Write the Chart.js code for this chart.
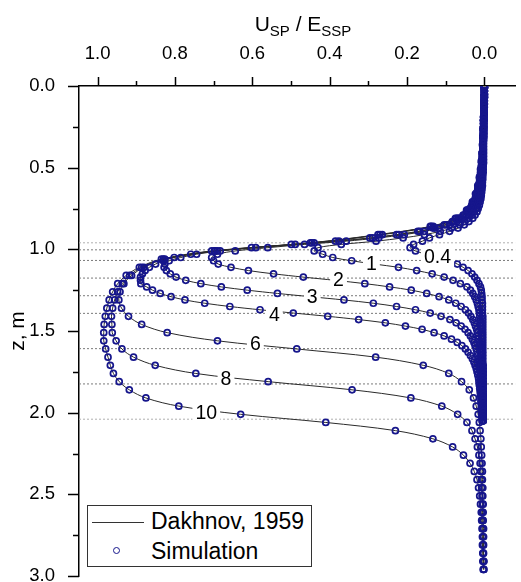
<!DOCTYPE html>
<html>
<head>
<meta charset="utf-8">
<title>SP profiles</title>
<script src="https://cdn.jsdelivr.net/npm/chart.js@4.4.1/dist/chart.umd.min.js"></script>
<style>
  body { margin: 0; background: #fff; }
  #wrap { position: relative; width: 521px; height: 582px; font-family: 'Liberation Sans', Arial, sans-serif; color: #000; }
  #chart { position: absolute; left: 0; top: 0; }
  #xTitle { position: absolute; left: 153px; top: 13px; width: 300px; text-align: center; font-size: 21px; line-height: 21px; }
  #xTitle span { font-size: 15px; position: relative; top: 5px; }
  #legend { position: absolute; left: 87px; top: 505px; width: 223px; height: 60px; border: 1px solid #333; background: #fff; }
  #legend .sample { position: absolute; left: 4px; top: 16px; width: 52px; border-top: 1px solid #333; }
  #legend .dot { position: absolute; left: 25px; top: 41px; width: 5px; height: 5px; border: 1.7px solid #16168c; border-radius: 50%; }
  #legend .txt { position: absolute; left: 63px; font-size: 23px; line-height: 23px; white-space: nowrap; }
</style>
</head>
<body>
<div id="wrap">
  <canvas id="chart" width="521" height="582"></canvas>
  <div id="xTitle">U<span>SP</span> / E<span>SSP</span></div>
  <div id="legend">
    <div class="sample"></div>
    <div class="txt" style="top: 4px;">Dakhnov, 1959</div>
    <div class="dot"></div>
    <div class="txt" style="top: 34px;">Simulation</div>
  </div>
</div>
<script>
const FONT = "'Liberation Sans', Arial, sans-serif";

// axis ticks
const xTicks = [1.0, 0.9, 0.8, 0.7, 0.6, 0.5, 0.4, 0.3, 0.2, 0.1, 0.0];
const zTicks = [0, 0.25, 0.5, 0.75, 1.0, 1.25, 1.5, 1.75, 2.0, 2.25, 2.5, 2.75, 3.0];

// bed boundaries (dotted)
const bedLines = [0.96, 1.003, 1.068, 1.176, 1.284, 1.392, 1.608, 1.824, 2.04];

// curve labels (h/d) and where they sit on each curve
const curveNames = ['0.4', '1', '2', '3', '4', '6', '8', '10'];
const labelU = [0.121, 0.292, 0.377, 0.445, 0.543, 0.592, 0.668, 0.719];
const labelZ = [1.045, 1.09, 1.188, 1.29, 1.4, 1.58, 1.79, 1.998];

// depth sampling: fine grid for thin beds, coarse for thick ones
function depthGrid(start, step, count) {
    const out = [];
    for (let i = 0; i < count; i++) out.push(+(start + i * step).toFixed(3));
    return out;
}
const depthFine = depthGrid(0.01, 0.02, 103);   // 0.01 .. 2.05
const depthCoarse = depthGrid(0.01, 0.05, 60);  // 0.01 .. 2.96

// U_SP / E_SSP on depthFine
const u04 = [
    0, 0, 0, 0, 0, 0, 0, 0.001, 0.001, 0.001,
    0.001, 0.001, 0.001, 0.001, 0.001, 0.001, 0.002, 0.002, 0.002, 0.002,
    0.002, 0.002, 0.002, 0.002, 0.003, 0.003, 0.003, 0.004, 0.004, 0.005,
    0.005, 0.006, 0.007, 0.008, 0.009, 0.011, 0.013, 0.016, 0.019, 0.024,
    0.030, 0.040, 0.052, 0.068, 0.090, 0.116, 0.142, 0.160, 0.183, 0.192,
    0.178, 0.150, 0.118, 0.090, 0.070, 0.055, 0.042, 0.032, 0.025, 0.019,
    0.014, 0.010, 0.008, 0.007, 0.006, 0.006, 0.005, 0.005, 0.005, 0.005,
    0.004, 0.004, 0.004, 0.004, 0.004, 0.004, 0.004, 0.004, 0.004, 0.004,
    0.004, 0.004, 0.004, 0.004, 0.004, 0.003, 0.003, 0.003, 0.003, 0.003,
    0.003, 0.003, 0.003, 0.003, 0.003, 0.003, 0.003, 0.003, 0.003, 0.003,
    0.003, 0.003, 0.003
];
const u1 = [
    0, 0, 0, 0, 0, 0.001, 0.001, 0.001, 0.001, 0.001,
    0.002, 0.002, 0.002, 0.002, 0.002, 0.002, 0.002, 0.003, 0.003, 0.003,
    0.003, 0.003, 0.003, 0.004, 0.004, 0.004, 0.005, 0.005, 0.006, 0.006,
    0.008, 0.009, 0.010, 0.011, 0.013, 0.015, 0.018, 0.021, 0.026, 0.032,
    0.040, 0.050, 0.064, 0.085, 0.114, 0.155, 0.210, 0.280, 0.370, 0.430,
    0.440, 0.418, 0.392, 0.343, 0.285, 0.222, 0.175, 0.135, 0.104, 0.081,
    0.062, 0.045, 0.036, 0.030, 0.025, 0.021, 0.018, 0.016, 0.014, 0.013,
    0.012, 0.011, 0.010, 0.009, 0.008, 0.008, 0.007, 0.007, 0.006, 0.006,
    0.006, 0.005, 0.005, 0.005, 0.005, 0.004, 0.004, 0.004, 0.004, 0.004,
    0.004, 0.004, 0.004, 0.004, 0.003, 0.003, 0.003, 0.003, 0.003, 0.003,
    0.003, 0.003, 0.003
];
const u2 = [
    0, 0, 0, 0, 0.001, 0.001, 0.001, 0.001, 0.001, 0.002,
    0.002, 0.002, 0.002, 0.002, 0.002, 0.003, 0.003, 0.003, 0.003, 0.003,
    0.004, 0.004, 0.005, 0.005, 0.006, 0.007, 0.008, 0.008, 0.009, 0.010,
    0.011, 0.012, 0.014, 0.016, 0.018, 0.022, 0.026, 0.031, 0.038, 0.047,
    0.057, 0.071, 0.090, 0.118, 0.155, 0.207, 0.273, 0.357, 0.465, 0.560,
    0.644, 0.690, 0.705, 0.700, 0.688, 0.655, 0.610, 0.545, 0.468, 0.385,
    0.309, 0.245, 0.189, 0.149, 0.117, 0.092, 0.074, 0.060, 0.049, 0.041,
    0.035, 0.030, 0.026, 0.023, 0.020, 0.018, 0.016, 0.015, 0.013, 0.012,
    0.011, 0.010, 0.010, 0.009, 0.008, 0.008, 0.007, 0.007, 0.007, 0.006,
    0.006, 0.006, 0.005, 0.005, 0.005, 0.005, 0.004, 0.004, 0.004, 0.004,
    0.004, 0.003, 0.003
];
const u3 = [
    0, 0, 0, 0, 0.001, 0.001, 0.001, 0.001, 0.001, 0.002,
    0.002, 0.002, 0.002, 0.003, 0.003, 0.003, 0.003, 0.003, 0.004, 0.004,
    0.005, 0.005, 0.006, 0.007, 0.007, 0.008, 0.009, 0.010, 0.011, 0.012,
    0.014, 0.015, 0.017, 0.020, 0.022, 0.026, 0.030, 0.035, 0.042, 0.052,
    0.063, 0.078, 0.099, 0.128, 0.167, 0.221, 0.289, 0.376, 0.489, 0.591,
    0.683, 0.744, 0.785, 0.815, 0.826, 0.828, 0.822, 0.812, 0.797, 0.772,
    0.733, 0.680, 0.613, 0.535, 0.450, 0.363, 0.287, 0.227, 0.178, 0.140,
    0.112, 0.089, 0.073, 0.060, 0.050, 0.042, 0.036, 0.031, 0.027, 0.024,
    0.021, 0.019, 0.017, 0.015, 0.014, 0.013, 0.012, 0.011, 0.010, 0.009,
    0.009, 0.008, 0.008, 0.007, 0.007, 0.006, 0.006, 0.006, 0.005, 0.005,
    0.005, 0.004, 0.004
];
const u4 = [
    0, 0, 0, 0, 0.001, 0.001, 0.001, 0.001, 0.001, 0.002,
    0.002, 0.002, 0.002, 0.003, 0.003, 0.003, 0.003, 0.003, 0.004, 0.004,
    0.005, 0.006, 0.006, 0.007, 0.008, 0.009, 0.010, 0.011, 0.012, 0.013,
    0.015, 0.017, 0.019, 0.021, 0.024, 0.028, 0.033, 0.038, 0.046, 0.055,
    0.067, 0.083, 0.104, 0.133, 0.172, 0.227, 0.296, 0.385, 0.499, 0.602,
    0.696, 0.759, 0.802, 0.830, 0.850, 0.866, 0.877, 0.884, 0.889, 0.889,
    0.888, 0.873, 0.858, 0.838, 0.810, 0.774, 0.723, 0.658, 0.580, 0.494,
    0.405, 0.325, 0.256, 0.204, 0.161, 0.130, 0.104, 0.085, 0.070, 0.058,
    0.049, 0.042, 0.036, 0.031, 0.027, 0.024, 0.021, 0.019, 0.017, 0.015,
    0.014, 0.013, 0.012, 0.011, 0.010, 0.009, 0.009, 0.008, 0.008, 0.007,
    0.007, 0.006, 0.006
];

// U_SP / E_SSP on depthCoarse
const u6 = [
    0, 0, 0, 0.001, 0.001, 0.002, 0.003, 0.003, 0.004, 0.006,
    0.008, 0.010, 0.013, 0.018, 0.026, 0.040, 0.068, 0.132, 0.264, 0.440,
    0.690, 0.826, 0.880, 0.912, 0.932, 0.942, 0.945, 0.938, 0.920, 0.886,
    0.820, 0.690, 0.485, 0.281, 0.158, 0.092, 0.059, 0.039, 0.028, 0.021,
    0.016, 0.013, 0.011, 0.009, 0.008, 0.007, 0.006, 0.005, 0.005, 0.004,
    0.004, 0.003, 0.003, 0.003, 0.002, 0.002, 0.002, 0.002, 0.001, 0.001
];
const u8 = [
    0, 0, 0.001, 0.001, 0.002, 0.003, 0.003, 0.004, 0.005, 0.007,
    0.009, 0.012, 0.016, 0.021, 0.029, 0.044, 0.072, 0.137, 0.270, 0.446,
    0.698, 0.830, 0.886, 0.917, 0.936, 0.948, 0.956, 0.961, 0.964, 0.963,
    0.962, 0.952, 0.937, 0.907, 0.851, 0.746, 0.559, 0.342, 0.190, 0.110,
    0.069, 0.045, 0.032, 0.024, 0.018, 0.014, 0.011, 0.009, 0.008, 0.007,
    0.006, 0.005, 0.005, 0.004, 0.004, 0.003, 0.003, 0.003, 0.002, 0.002
];
const u10 = [
    0, 0, 0.001, 0.001, 0.002, 0.003, 0.004, 0.005, 0.006, 0.008,
    0.010, 0.013, 0.017, 0.023, 0.031, 0.046, 0.075, 0.140, 0.275, 0.450,
    0.705, 0.835, 0.892, 0.926, 0.948, 0.961, 0.970, 0.976, 0.980, 0.983,
    0.984, 0.984, 0.979, 0.973, 0.967, 0.959, 0.944, 0.918, 0.875, 0.790,
    0.630, 0.410, 0.230, 0.133, 0.082, 0.054, 0.037, 0.026, 0.019, 0.015,
    0.012, 0.010, 0.008, 0.007, 0.006, 0.005, 0.005, 0.004, 0.004, 0.003
];

const profiles = [
    { depth: depthFine, u: u04 },
    { depth: depthFine, u: u1 },
    { depth: depthFine, u: u2 },
    { depth: depthFine, u: u3 },
    { depth: depthFine, u: u4 },
    { depth: depthCoarse, u: u6 },
    { depth: depthCoarse, u: u8 },
    { depth: depthCoarse, u: u10 }
];

function toPoints(depth, u) {
    return u.map((v, i) => ({ x: v, y: depth[i] }));
}

const SIM_COLOR = '#16168c';
const datasets = [];

// simulation circles go first so they end up on top
profiles.forEach(p => {
    datasets.push({
        data: toPoints(p.depth, p.u),
        showLine: false,
        pointStyle: 'circle',
        pointRadius: 3,
        pointBorderWidth: 1.7,
        pointBorderColor: SIM_COLOR,
        pointBackgroundColor: 'rgba(0,0,0,0)'
    });
});
profiles.forEach(p => {
    datasets.push({
        data: toPoints(p.depth, p.u),
        showLine: true,
        borderColor: '#2a2a2a',
        borderWidth: 1,
        tension: 0.35,
        pointRadius: 0
    });
});
bedLines.forEach((z, i) => {
    const faint = i === 0 || i === bedLines.length - 1;
    datasets.push({
        data: [{ x: 1.048, y: z }, { x: -0.08, y: z }],
        showLine: true,
        borderColor: faint ? '#b0b0b0' : '#7a7a7a',
        borderWidth: 1,
        borderDash: [2, 2],
        pointRadius: 0
    });
});

function isMajorX(v) { return Math.round(v * 10) % 2 === 0; }
function isMajorZ(v) { return Math.round(v * 4) % 2 === 0; }

// major/minor tick marks on the top and left axes
const tickMarks = {
    id: 'tickMarks',
    afterDraw(chart) {
        const { ctx, chartArea, scales: { x, y } } = chart;
        ctx.save();
        ctx.strokeStyle = '#000';
        ctx.lineWidth = 1.5;
        ctx.beginPath();
        xTicks.forEach(v => {
            const px = Math.round(x.getPixelForValue(v)) + 0.5;
            const len = isMajorX(v) ? 9 : 5;
            ctx.moveTo(px, chartArea.top);
            ctx.lineTo(px, chartArea.top - len);
        });
        zTicks.forEach(v => {
            const py = Math.round(y.getPixelForValue(v)) + 0.5;
            const len = isMajorZ(v) ? 11 : 6;
            ctx.moveTo(chartArea.left, py);
            ctx.lineTo(chartArea.left - len, py);
        });
        ctx.stroke();
        ctx.restore();
    }
};

// h/d labels sitting on the curves
const curveLabels = {
    id: 'curveLabels',
    afterDatasetsDraw(chart) {
        const { ctx, scales: { x, y } } = chart;
        ctx.save();
        ctx.font = '19.5px ' + FONT;
        ctx.textAlign = 'center';
        ctx.textBaseline = 'middle';
        curveNames.forEach((name, i) => {
            const px = x.getPixelForValue(labelU[i]);
            const py = y.getPixelForValue(labelZ[i]);
            const w = ctx.measureText(name).width + 6;
            ctx.fillStyle = '#fff';
            ctx.fillRect(px - w / 2, py - 10, w, 20);
            ctx.fillStyle = '#000';
            ctx.fillText(name, px, py + 1);
        });
        ctx.restore();
    }
};

new Chart(document.getElementById('chart'), {
    type: 'scatter',
    data: { datasets: datasets },
    options: {
        responsive: false,
        animation: false,
        devicePixelRatio: 1,
        layout: { padding: { left: 0, top: 0, right: 1, bottom: 6 } },
        plugins: {
            legend: { display: false },
            tooltip: { enabled: false }
        },
        scales: {
            x: {
                type: 'linear',
                position: 'top',
                reverse: true,
                min: -0.08,
                max: 1.048,
                afterBuildTicks: s => { s.ticks = xTicks.map(v => ({ value: v })); },
                afterFit: s => { s.height = 86; s.paddingLeft = 0; s.paddingRight = 0; },
                grid: { display: false },
                border: { display: true, color: '#000', width: 1.5 },
                ticks: {
                    autoSkip: false,
                    maxRotation: 0,
                    padding: 13,
                    color: '#000',
                    font: { family: FONT, size: 18.5 },
                    callback: v => isMajorX(v) ? v.toFixed(1) : ''
                }
            },
            y: {
                type: 'linear',
                position: 'left',
                reverse: true,
                min: 0,
                max: 3,
                afterBuildTicks: s => { s.ticks = zTicks.map(v => ({ value: v })); },
                afterFit: s => { s.width = 79; s.paddingTop = 0; s.paddingBottom = 0; },
                grid: { display: false },
                border: { display: true, color: '#000', width: 1.5 },
                title: {
                    display: true,
                    text: 'z, m',
                    color: '#000',
                    font: { family: FONT, size: 21 },
                    padding: { top: 6, bottom: 0 }
                },
                ticks: {
                    autoSkip: false,
                    padding: 16,
                    color: '#000',
                    font: { family: FONT, size: 18.5 },
                    callback: v => isMajorZ(v) ? v.toFixed(1) : ''
                }
            }
        }
    },
    plugins: [tickMarks, curveLabels]
});
</script>
</body>
</html>
